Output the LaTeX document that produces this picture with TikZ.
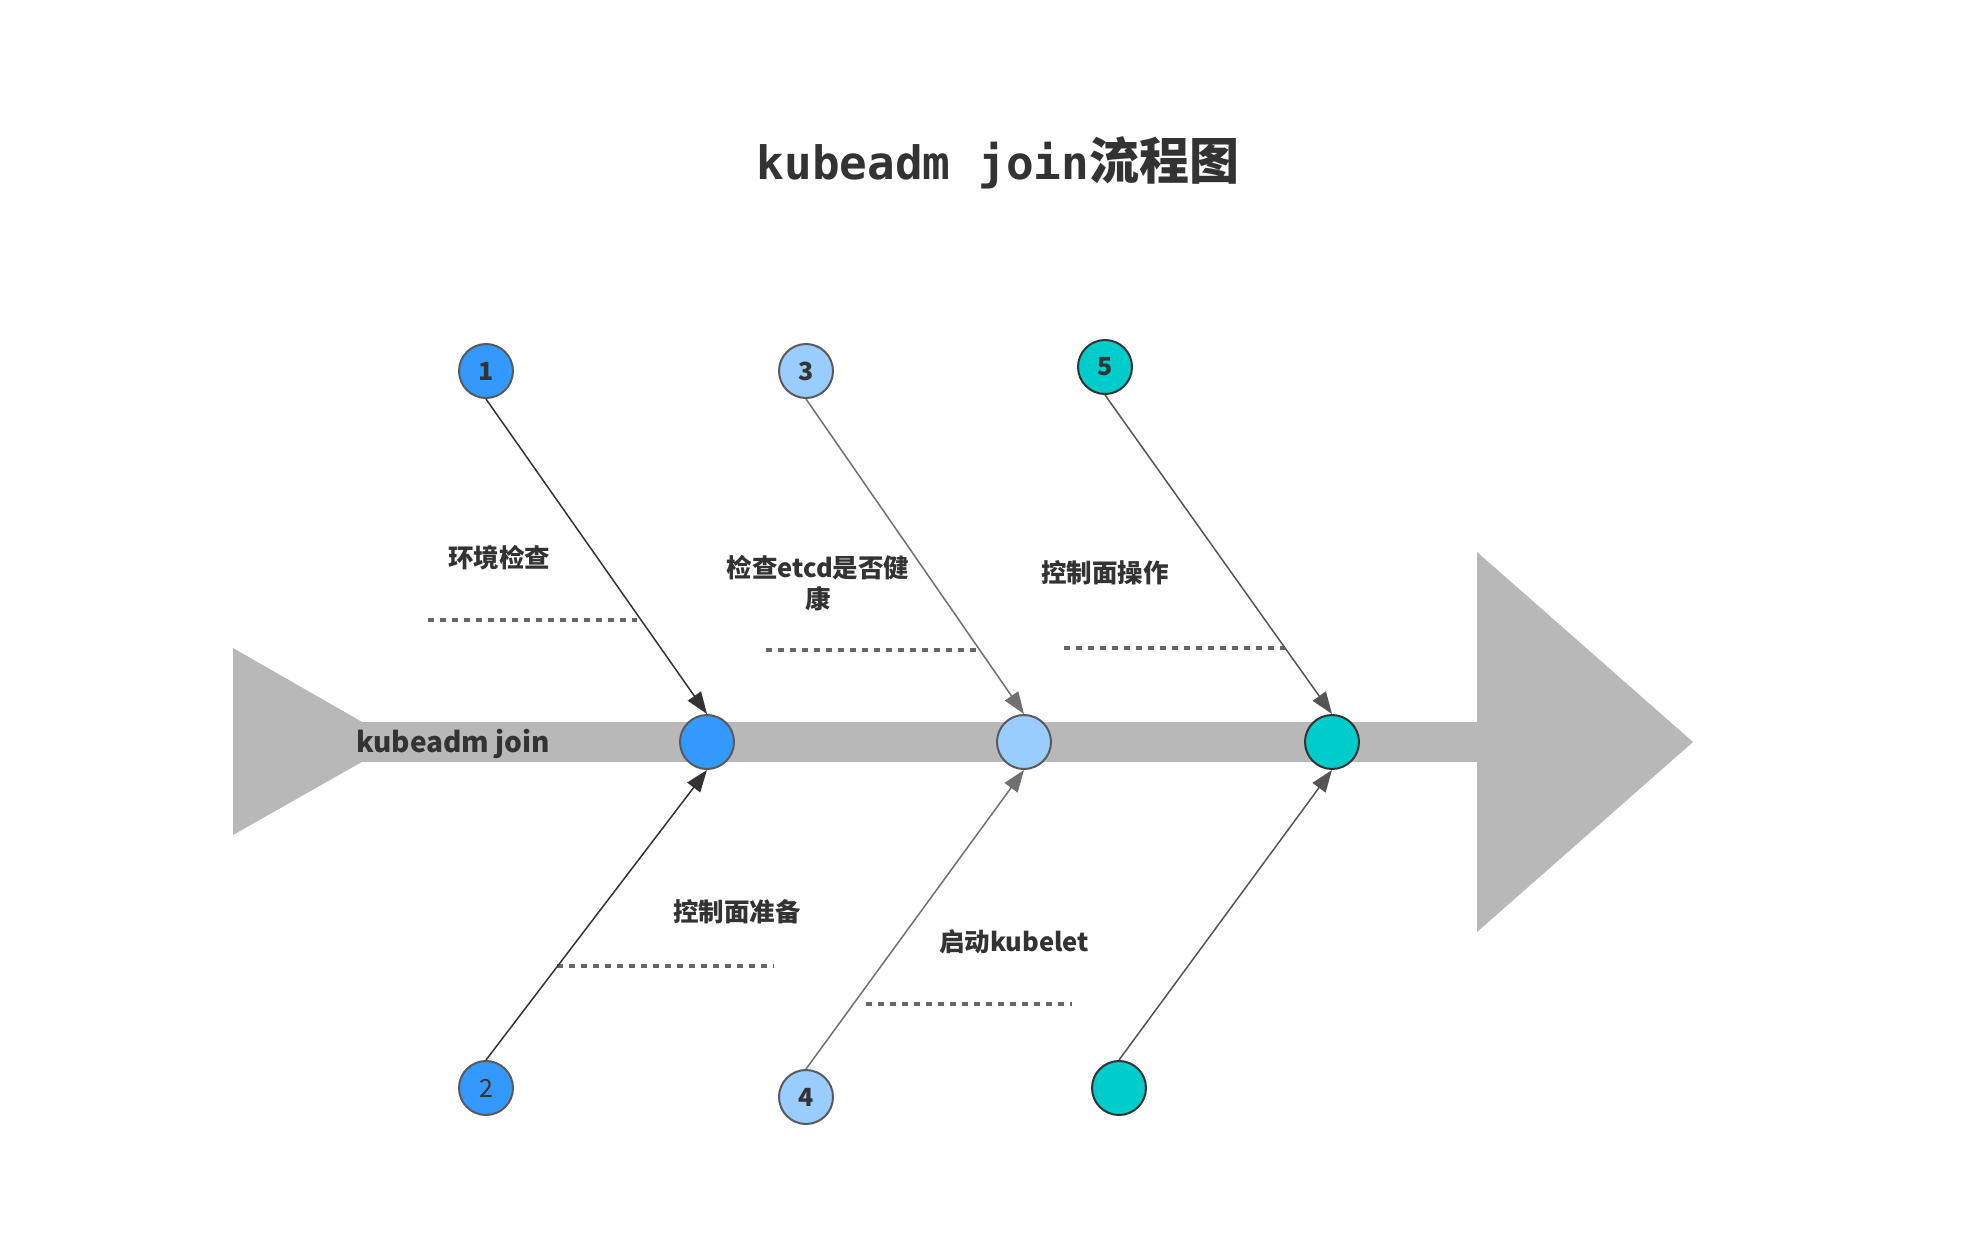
\documentclass[tikz,border=0pt]{standalone}
\usepackage{fontspec}
\newfontfamily\cjk{Noto Sans CJK SC}
\newfontfamily\monot{DejaVu Sans Mono}
\usetikzlibrary{arrows.meta}
\definecolor{band}{HTML}{B8B8B8}
\definecolor{txt}{HTML}{333333}
\definecolor{dotc}{HTML}{666666}
\definecolor{blueA}{HTML}{3399FF}
\definecolor{blueB}{HTML}{99CCFF}
\definecolor{tealC}{HTML}{00CCCC}
\definecolor{lineA}{HTML}{333333}
\definecolor{lineB}{HTML}{707070}
\definecolor{lineC}{HTML}{555555}
\definecolor{bordA}{HTML}{5A5A5A}
\definecolor{bordC}{HTML}{333333}
\tikzset{
  labeltext/.style={font=\cjk\bfseries\fontsize{25.5}{31}\selectfont, text=txt, inner sep=0pt, align=center},
  numtext/.style={font=\cjk\bfseries\fontsize{25}{28}\selectfont, text=txt},
  numreg/.style={font=\cjk\fontsize{25}{28}\selectfont, text=txt},
  dots/.style={draw=dotc, line width=4pt, dash pattern=on 6pt off 6pt},
  fishnode/.style={circle, minimum size=54pt, inner sep=0pt, line width=2pt},
  nodeA/.style={fishnode, fill=blueA, draw=bordA},
  nodeB/.style={fishnode, fill=blueB, draw=bordA},
  nodeC/.style={fishnode, fill=tealC, draw=bordC},
  conn/.style={line width=1.5pt, -{Triangle[length=22pt,width=16pt]}}
}
\begin{document}
\begin{tikzpicture}[x=1pt,y=-1pt]
\useasboundingbox (0,0) rectangle (1970,1260);
\fill[white] (0,0) rectangle (1970,1260);

% title
\node[font=\bfseries, text=txt, inner sep=0pt] (title) at (998,163)
  {{\monot\fontsize{46}{52}\selectfont kubeadm join}{\cjk\fontsize{50}{56}\selectfont 流程图}};

% spine
\fill[band] (233,648) -- (397,742) -- (233,835) -- cycle;
\fill[band] (360,722) rectangle (1480,762);
\fill[band] (1477,552) -- (1693,742) -- (1477,932) -- cycle;
\node[labeltext, font=\cjk\bfseries\fontsize{28}{32}\selectfont, anchor=west] (head) at (356,744) {kubeadm join};

% main circles
\node[nodeA] (m1) at (707,742) {};
\node[nodeB] (m3) at (1024,742) {};
\node[nodeC] (m5) at (1332,742) {};

% top circles
\node[nodeA, numtext] (c1) at (486,371) {1};
\node[nodeB, numtext] (c3) at (806,371) {3};
\node[nodeC, numtext] (c5) at (1105,367) {5};

% bottom circles
\node[nodeA, numreg] (c2) at (486,1088) {2};
\node[nodeB, numtext] (c4) at (806,1097) {4};
\node[nodeC] (c6) at (1119,1088) {};

% labels
\node[labeltext] (l1) at (499,558) {环境检查};
\node[labeltext] (l3) at (818,583) {检查etcd是否健\\康};
\node[labeltext] (l5) at (1105,573) {控制面操作};
\node[labeltext] (l2) at (737,912) {控制面准备};
\node[labeltext] (l4) at (1014,942) {启动kubelet};

% dotted lines
\coordinate (d1a) at (428,620); \coordinate (d1b) at (637,620);
\coordinate (d3a) at (766,650); \coordinate (d3b) at (977,650);
\coordinate (d5a) at (1064,648); \coordinate (d5b) at (1285,648);
\coordinate (d2a) at (557,966); \coordinate (d2b) at (774,966);
\coordinate (d4a) at (866,1004); \coordinate (d4b) at (1072,1004);
\draw[dots] (d1a) -- (d1b);
\draw[dots] (d3a) -- (d3b);
\draw[dots] (d5a) -- (d5b);
\draw[dots] (d2a) -- (d2b);
\draw[dots] (d4a) -- (d4b);

% connectors
\draw[conn, draw=lineA, fill=lineA] (c1.south) -- (m1.north);
\draw[conn, draw=lineA, fill=lineA] (c2.north) -- (m1.south);
\draw[conn, draw=lineB, fill=lineB] (c3.south) -- (m3.north);
\draw[conn, draw=lineB, fill=lineB] (c4.north) -- (m3.south);
\draw[conn, draw=lineC, fill=lineC] (c5.south) -- (m5.north);
\draw[conn, draw=lineC, fill=lineC] (c6.north) -- (m5.south);
\end{tikzpicture}
\end{document}
